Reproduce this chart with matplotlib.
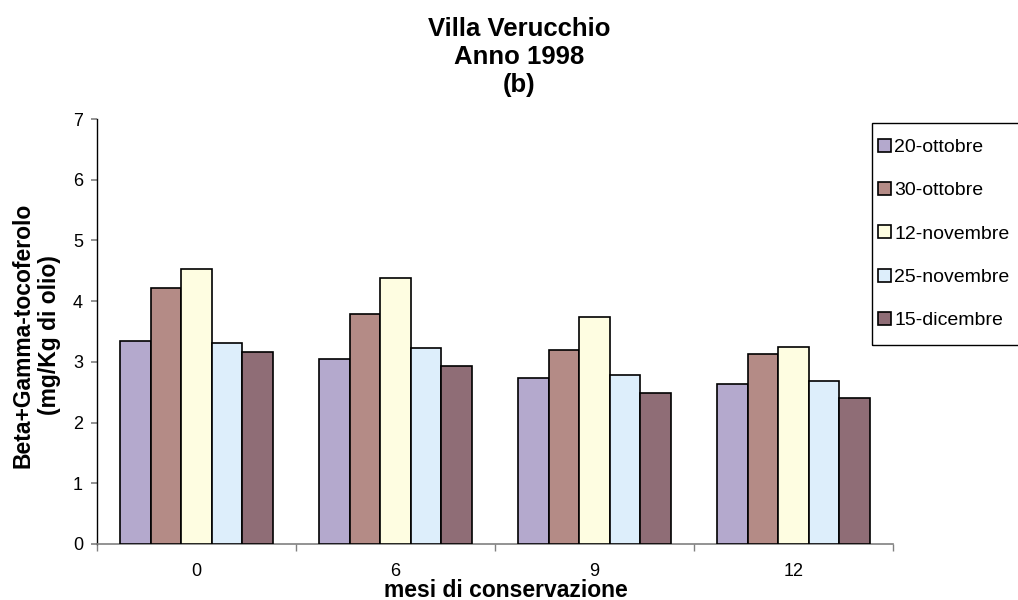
import numpy as np
import matplotlib
matplotlib.use('Agg')
from matplotlib import pyplot as plt
from matplotlib.patches import Rectangle

plt.rcParams['font.family'] = ['Liberation Sans', 'DejaVu Sans']

#-----------------------------------------------------------------------
#	Data
#-----------------------------------------------------------------------

months = ['0', '6', '9', '12']
series = ['20-ottobre', '30-ottobre', '12-novembre', '25-novembre', '15-dicembre']
ott20 = [3.35, 3.05, 2.74, 2.64]
ott30 = [4.21, 3.79, 3.20, 3.13]
nov12 = [4.53, 4.38, 3.74, 3.24]
nov25 = [3.31, 3.23, 2.79, 2.69]
dic15 = [3.17, 2.93, 2.49, 2.40]
colors = ['#B4A9CD', '#B48B86', '#FEFDE1', '#DDEEFB', '#8F6D76']

values = [ott20, ott30, nov12, nov25, dic15]

W, H = 1018, 600
fig = plt.figure(figsize=(W / 100, H / 100), dpi=100)
ax = fig.add_axes([97 / W, 1 - 544 / H, (893 - 97) / W, (544 - 119) / H])

x = np.arange(len(months))
barW = 1 / (len(series) + 1.5)
for i, (name, vals, c) in enumerate(zip(series, values, colors)):
	offset = (i - (len(series) - 1) / 2) * barW
	ax.bar(x + offset, vals, barW, color=c, edgecolor='black', linewidth=1.2, label=name, zorder=3)

ax.set_xlim(-0.5, len(months) - 0.5)
ax.set_ylim(0, 7)
ax.set_yticks(range(0, 8))
ax.set_xticks(x)
ax.set_xticklabels(months)
ax.set_xticks(np.arange(-0.5, len(months)), minor=True)
ax.tick_params(axis='x', which='major', length=0, pad=14, labelsize=13)
ax.tick_params(axis='x', which='minor', length=5, color='#808080', width=1)
ax.tick_params(axis='y', length=4, width=1.2, pad=6, labelsize=13, color='#808080')

for s in ['top', 'right']:
	ax.spines[s].set_visible(False)
ax.spines['bottom'].set_color('#808080')
ax.spines['bottom'].set_linewidth(1.2)
ax.spines['left'].set_linewidth(1)

ax.set_xlabel('mesi di conservazione', fontsize=16.5, fontweight='bold', va='baseline')
ax.xaxis.set_label_coords((506 - 97) / 796, -(597 - 544) / 425)
ax.set_ylabel('Beta+Gamma-tocoferolo\n(mg/Kg di olio)', fontsize=16.5, fontweight='bold', va='center')
ax.yaxis.set_label_coords((36 - 97) / 796, (544 - 335) / 425)

fig.text(519 / W, 1 - 57 / H, 'Villa Verucchio\nAnno 1998\n(b)',
	ha='center', va='center', fontsize=18.5, fontweight='bold', linespacing=1.2)

# legend box (square corners, clipped by the right edge like the original)
leg = fig.legend(loc='center left', bbox_to_anchor=(874 / W, 1 - 234 / H), borderaxespad=0,
	fontsize=14, labelspacing=1.34, handlelength=0.65, handleheight=0.65, handletextpad=0.2,
	frameon=False, borderpad=0.2)
for h in leg.legend_handles:
	h.set_linewidth(1.2)
fig.patches.append(Rectangle((872 / W, 1 - 345 / H), (1040 - 872) / W, (345 - 123) / H,
	transform=fig.transFigure, fill=False, edgecolor='black', linewidth=1))

fig.savefig('out.png', dpi=100)
